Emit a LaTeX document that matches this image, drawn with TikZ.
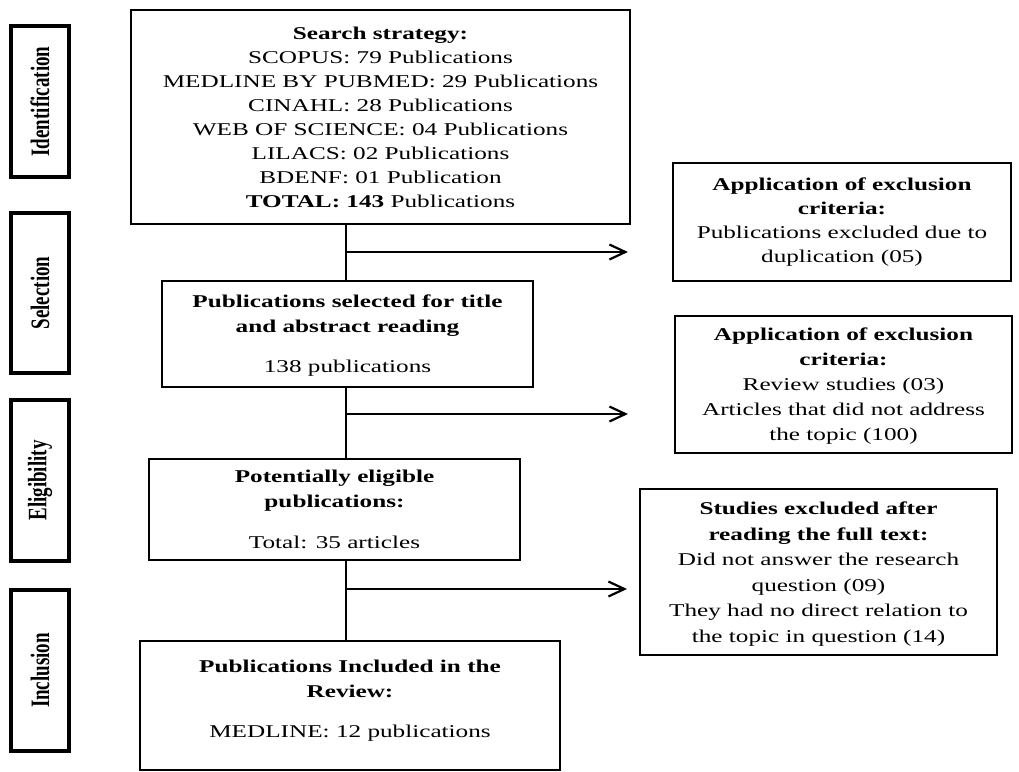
\documentclass[tikz,border=0pt]{standalone}
\usepackage{fontspec}
\setmainfont{Liberation Serif}[FakeStretch=1.4]
\newfontfamily\sidefont{Liberation Serif}
\usetikzlibrary{arrows.meta}
\newcommand{\sidelabel}[1]{\rotatebox{90}{\scalebox{1}[1.4]{\sidefont\bfseries\fontsize{9.5}{10}\selectfont #1}}}
\begin{document}
\begin{tikzpicture}[x=0.5pt,y=-0.5pt,
  box/.style={draw, line width=1.2pt, align=center, inner sep=0pt,
    font=\fontsize{9}{12}\selectfont},
  boxb/.style={box, font=\fontsize{9}{12.5}\selectfont},
  side/.style={draw, line width=1.8pt, inner sep=0pt, minimum width=29pt},
  conn/.style={line width=1pt},
  arr/.style={line width=1pt, -{Straight Barb[length=8pt,width=7.5pt,line width=1.1pt]}}]
\useasboundingbox (0,0) rectangle (1019,772);

% side labels
\node[side, minimum height=75.5pt] (ident) at (40,101.5) {\sidelabel{Identification}};
\node[side, minimum height=80pt] (sel) at (40,293) {\sidelabel{Selection}};
\node[side, minimum height=80.5pt] (elig) at (40,480.5) {\sidelabel{Eligibility}};
\node[side, minimum height=80.5pt] (incl) at (40,670.5) {\sidelabel{Inclusion}};

% main column
\node[box, minimum width=249.5pt, minimum height=107pt] (search) at (380.5,117) {%
  \textbf{Search strategy:}\\
  SCOPUS: 79 Publications\\
  MEDLINE BY PUBMED: 29 Publications\\
  CINAHL: 28 Publications\\
  WEB OF SCIENCE: 04 Publications\\
  LILACS: 02 Publications\\
  BDENF: 01 Publication\\
  \textbf{TOTAL: 143} Publications};

\node[boxb, minimum width=185.5pt, minimum height=53pt, text depth=-2pt] (sel1) at (347.5,334) {%
  \textbf{Publications selected for title}\\
  \textbf{and abstract reading}\\[7.5pt]
  138 publications};

\node[boxb, minimum width=185.5pt, minimum height=50.5pt, text depth=-3pt] (elig1) at (334.5,509.5) {%
  \textbf{Potentially eligible}\\
  \textbf{publications:}\\[8pt]
  Total: 35 articles};

\node[boxb, minimum width=210pt, minimum height=64.5pt, text depth=7pt] (incl1) at (350,705.5) {%
  \textbf{Publications Included in the}\\
  \textbf{Review:}\\[7.5pt]
  MEDLINE: 12 publications};

% exclusion boxes
\node[box, minimum width=169pt, minimum height=59pt] (ex1) at (842,222) {%
  \textbf{Application of exclusion}\\
  \textbf{criteria:}\\
  Publications excluded due to\\
  duplication (05)};

\node[boxb, minimum width=168.5pt, minimum height=68.5pt, text depth=-8pt] (ex2) at (843.5,384.5) {%
  \textbf{Application of exclusion}\\
  \textbf{criteria:}\\
  Review studies (03)\\
  Articles that did not address\\
  the topic (100)};

\node[box, minimum width=178.5pt, minimum height=83pt, text depth=-3pt, font=\fontsize{9}{12.75}\selectfont] (ex3) at (818.5,572) {%
  \textbf{Studies excluded after}\\
  \textbf{reading the full text:}\\
  Did not answer the research\\
  question (09)\\
  They had no direct relation to\\
  the topic in question (14)};

% connectors
\coordinate (b1) at (346,252);
\coordinate (e1) at (628,252);
\coordinate (b2) at (346,414);
\coordinate (e2) at (628,414);
\coordinate (b3) at (346,589);
\coordinate (e3) at (627,589);

\draw[conn] (search.south -| b1) -- (sel1.north -| b1);
\draw[conn] (sel1.south -| b2) -- (elig1.north -| b2);
\draw[conn] (elig1.south -| b3) -- (incl1.north -| b3);
\draw[arr] (b1) -- (e1);
\draw[arr] (b2) -- (e2);
\draw[arr] (b3) -- (e3);
\end{tikzpicture}
\end{document}
